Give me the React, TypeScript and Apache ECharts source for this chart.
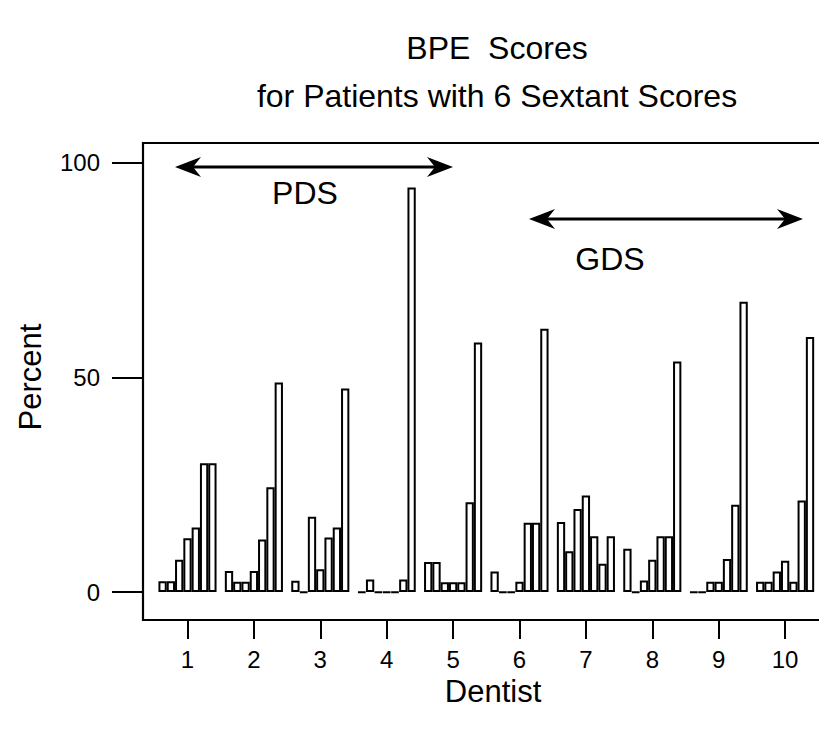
import React, { useEffect, useRef } from 'react';
import * as echarts from 'echarts';

// Dentists on the x axis
const dentists = [1, 2, 3, 4, 5, 6, 7, 8, 9, 10];

// Percent of patients in each of the 7 bars, per dentist
const dentist1 = [2.5, 2.5, 7.5, 12.5, 15.0, 30.0, 30.0];
const dentist2 = [4.9, 2.4, 2.4, 4.9, 12.2, 24.4, 48.8];
const dentist3 = [2.6, 0, 17.5, 5.3, 12.7, 15.0, 47.4];
const dentist4 = [0, 2.9, 0, 0, 0, 2.9, 94.2];
const dentist5 = [7.0, 7.0, 2.3, 2.3, 2.3, 20.9, 58.1];
const dentist6 = [4.8, 0, 0, 2.4, 16.1, 16.1, 61.3];
const dentist7 = [16.3, 9.5, 19.3, 22.5, 13.0, 6.6, 13.0];
const dentist8 = [10.1, 0, 2.7, 7.5, 13.0, 13.0, 53.7];
const dentist9 = [0, 0, 2.4, 2.4, 7.7, 20.3, 67.6];
const dentist10 = [2.4, 2.4, 4.8, 7.3, 2.4, 21.3, 59.4];

const groups = [dentist1, dentist2, dentist3, dentist4, dentist5, dentist6, dentist7, dentist8, dentist9, dentist10];
const barNames = ['Bar 1', 'Bar 2', 'Bar 3', 'Bar 4', 'Bar 5', 'Bar 6', 'Bar 7'];

// y tick labels
const yTicks = [0, 50, 100];

const FONT = '"Liberation Sans", Arial, Helvetica, sans-serif';

function arrow(x1: number, x2: number, y: number) {
  const headLen = 26;
  const headHalf = 10;
  const notch = 18;
  return [
    {
      type: 'line',
      shape: { x1: x1 + notch, y1: y, x2: x2 - notch, y2: y },
      style: { stroke: '#000', lineWidth: 3 },
      silent: true,
    },
    {
      type: 'polygon',
      shape: { points: [[x2, y], [x2 - headLen, y - headHalf], [x2 - notch, y], [x2 - headLen, y + headHalf]] },
      style: { fill: '#000' },
      silent: true,
    },
    {
      type: 'polygon',
      shape: { points: [[x1, y], [x1 + headLen, y - headHalf], [x1 + notch, y], [x1 + headLen, y + headHalf]] },
      style: { fill: '#000' },
      silent: true,
    },
  ];
}

export default function App() {
  const ref = useRef<HTMLDivElement>(null);

  useEffect(() => {
    const chart = echarts.init(ref.current as HTMLDivElement, null, { renderer: 'svg' });

    const series = barNames.map((name, k) => ({
      type: 'bar',
      name,
      data: groups.map((g, i) => [dentists[i], g[k]]),
      barWidth: 8.3,
      barGap: '0%',
      barMinHeight: 0.6,
      itemStyle: { color: '#ffffff', borderColor: '#000000', borderWidth: 2 },
      silent: true,
    }));

    const plotLeft = 143;
    const plotTop = 143;
    const plotBottom = 620;

    chart.setOption({
      animation: false,
      backgroundColor: '#ffffff',
      textStyle: { fontFamily: FONT },
      grid: { left: plotLeft, top: plotTop, width: 687, height: plotBottom - plotTop, containLabel: false },
      xAxis: {
        type: 'value',
        min: 0.33,
        max: 10.676,
        axisLine: { show: false, onZero: false },
        axisTick: { show: true, length: 19, customValues: dentists, lineStyle: { color: '#000', width: 2 } },
        axisLabel: { color: '#000', fontSize: 24, fontFamily: FONT, margin: 27, customValues: dentists },
        splitLine: { show: false },
      },
      yAxis: {
        type: 'value',
        min: -6.52,
        max: 104.56,
        axisLine: { show: false, onZero: false },
        axisTick: { show: true, length: 31, customValues: yTicks, lineStyle: { color: '#000', width: 2 } },
        axisLabel: { color: '#000', fontSize: 24, fontFamily: FONT, margin: 43, customValues: yTicks },
        splitLine: { show: false },
      },
      series,
      graphic: [
        {
          type: 'rect',
          shape: { x: plotLeft, y: plotTop, width: 900, height: plotBottom - plotTop },
          style: { fill: 'none', stroke: '#000', lineWidth: 2.2 },
          silent: true,
          z: 10,
        },
        {
          type: 'text',
          x: 497,
          y: 48,
          style: { text: 'BPE  Scores', fill: '#000', font: `32px ${FONT}`, textAlign: 'center', textVerticalAlign: 'middle' },
        },
        {
          type: 'text',
          x: 497,
          y: 96,
          style: { text: 'for Patients with 6 Sextant Scores', fill: '#000', font: `32px ${FONT}`, textAlign: 'center', textVerticalAlign: 'middle' },
        },
        {
          type: 'text',
          x: 30,
          y: 377,
          rotation: Math.PI / 2,
          style: { text: 'Percent', fill: '#000', font: `31px ${FONT}`, textAlign: 'center', textVerticalAlign: 'middle' },
        },
        {
          type: 'text',
          x: 493,
          y: 691,
          style: { text: 'Dentist', fill: '#000', font: `31px ${FONT}`, textAlign: 'center', textVerticalAlign: 'middle' },
        },
        ...arrow(175, 453, 167),
        {
          type: 'text',
          x: 305,
          y: 193,
          style: { text: 'PDS', fill: '#000', font: `32px ${FONT}`, textAlign: 'center', textVerticalAlign: 'middle' },
        },
        ...arrow(529, 803, 219),
        {
          type: 'text',
          x: 610,
          y: 259,
          style: { text: 'GDS', fill: '#000', font: `32px ${FONT}`, textAlign: 'center', textVerticalAlign: 'middle' },
        },
      ],
    });

    return () => {
      chart.dispose();
    };
  }, []);

  return (
    <div style={{ position: 'absolute', left: 0, top: 0, width: 819, height: 734, overflow: 'hidden', background: '#fff' }}>
      <div ref={ref} style={{ width: 840, height: 734 }} />
    </div>
  );
}
